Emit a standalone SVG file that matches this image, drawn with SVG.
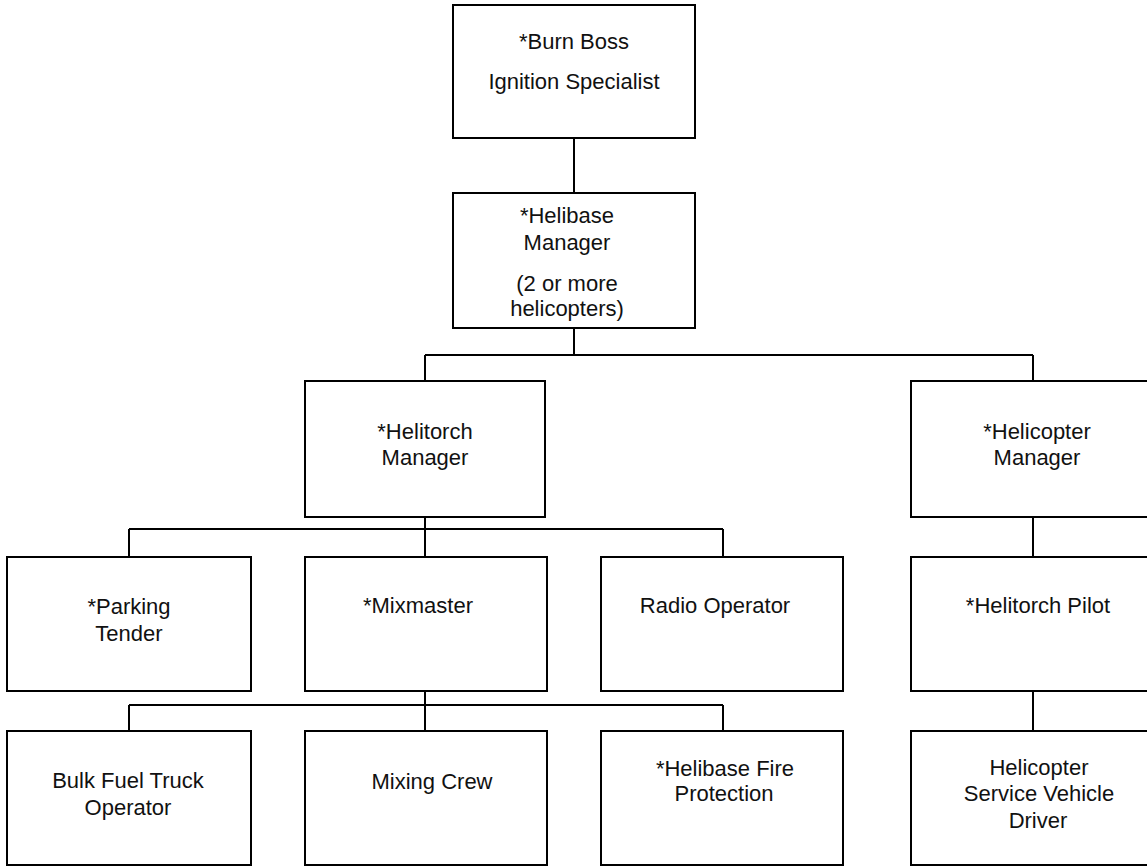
<svg xmlns="http://www.w3.org/2000/svg" width="1147" height="867" viewBox="0 0 1147 867">
  <style>
    .box { fill: #ffffff; stroke: #000000; stroke-width: 2; }
    .wire { fill: none; stroke: #000000; stroke-width: 2; }
    text { font-family: "Liberation Sans", Arial, sans-serif; font-size: 22px; fill: #111111; text-anchor: middle; }
  </style>
  <rect width="1147" height="867" fill="#ffffff"/>

  <!-- reporting lines -->
  <g id="connectors">
    <path class="wire" d="M574 138 V193"/>
    <path class="wire" d="M574 328 V355 M425 355 H1033 M425 355 V381 M1033 355 V381"/>
    <path class="wire" d="M425 517 V529 M129 529 H723 M129 529 V557 M425 529 V557 M723 529 V557"/>
    <path class="wire" d="M425 691 V705 M129 705 H723 M129 705 V731 M425 705 V731 M723 705 V731"/>
    <path class="wire" d="M1033 517 V557"/>
    <path class="wire" d="M1033 691 V731"/>
  </g>

  <g id="burn-boss">
    <rect class="box" x="453" y="5" width="242" height="133"/>
    <text x="574" y="49">*Burn Boss</text>
    <text x="574" y="89">Ignition Specialist</text>
  </g>

  <g id="helibase-manager">
    <rect class="box" x="453" y="193" width="242" height="135"/>
    <text x="567" y="223">*Helibase</text>
    <text x="567" y="250">Manager</text>
    <text x="567" y="291">(2 or more</text>
    <text x="567" y="316">helicopters)</text>
  </g>

  <g id="helitorch-manager">
    <rect class="box" x="305" y="381" width="240" height="136"/>
    <text x="425" y="439">*Helitorch</text>
    <text x="425" y="465">Manager</text>
  </g>

  <g id="helicopter-manager">
    <rect class="box" x="911" y="381" width="254" height="136"/>
    <text x="1037" y="439">*Helicopter</text>
    <text x="1037" y="465">Manager</text>
  </g>

  <g id="parking-tender">
    <rect class="box" x="7" y="557" width="244" height="134"/>
    <text x="129" y="614">*Parking</text>
    <text x="129" y="641">Tender</text>
  </g>

  <g id="mixmaster">
    <rect class="box" x="305" y="557" width="242" height="134"/>
    <text x="418" y="613">*Mixmaster</text>
  </g>

  <g id="radio-operator">
    <rect class="box" x="601" y="557" width="242" height="134"/>
    <text x="715" y="613">Radio Operator</text>
  </g>

  <g id="helitorch-pilot">
    <rect class="box" x="911" y="557" width="254" height="134"/>
    <text x="1038" y="613">*Helitorch Pilot</text>
  </g>

  <g id="bulk-fuel-truck-operator">
    <rect class="box" x="7" y="731" width="244" height="134"/>
    <text x="128" y="788">Bulk Fuel Truck</text>
    <text x="128" y="815">Operator</text>
  </g>

  <g id="mixing-crew">
    <rect class="box" x="305" y="731" width="242" height="134"/>
    <text x="432" y="789">Mixing Crew</text>
  </g>

  <g id="helibase-fire-protection">
    <rect class="box" x="601" y="731" width="242" height="134"/>
    <text x="725" y="776">*Helibase Fire</text>
    <text x="724" y="801">Protection</text>
  </g>

  <g id="helicopter-service-vehicle-driver">
    <rect class="box" x="911" y="731" width="254" height="134"/>
    <text x="1039" y="775">Helicopter</text>
    <text x="1039" y="801">Service Vehicle</text>
    <text x="1038" y="828">Driver</text>
  </g>
</svg>
